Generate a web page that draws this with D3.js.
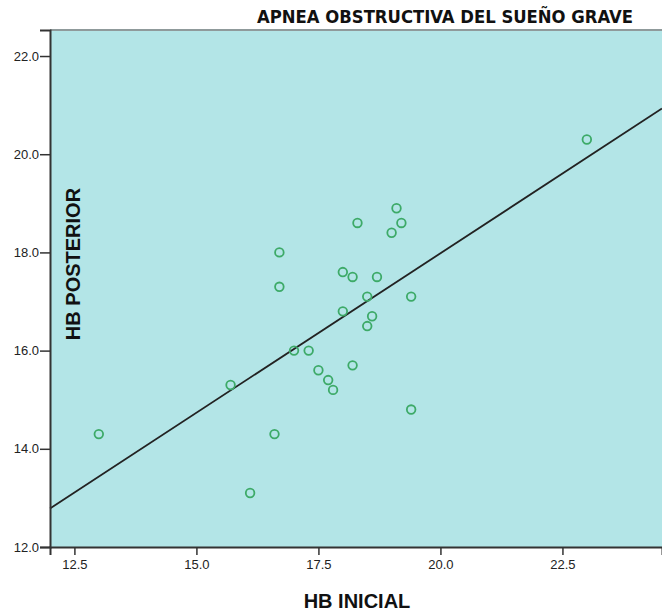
<!DOCTYPE html>
<html>
<head>
<meta charset="utf-8">
<script src="https://cdn.jsdelivr.net/npm/d3@7"></script>
<style>
  body { margin: 0; background: #fff; }
  svg { display: block; }
</style>
</head>
<body>
<div id="chart"></div>
<script>
// HB inicial vs HB posterior, one point per patient
const hbInicial = [13.0, 15.7, 16.1, 16.6, 16.7, 16.7, 17.0, 17.3, 17.5, 17.7, 17.8, 18.0, 18.0,
    18.2, 18.2, 18.3, 18.5, 18.5, 18.6, 18.7, 19.0, 19.1, 19.2, 19.4, 19.4, 23.0];
const hbPosterior = [14.3, 15.3, 13.1, 14.3, 18.0, 17.3, 16.0, 16.0, 15.6, 15.4, 15.2, 17.6, 16.8,
    17.5, 15.7, 18.6, 17.1, 16.5, 16.7, 17.5, 18.4, 18.9, 18.6, 17.1, 14.8, 20.3];
const xTicks = [12.5, 15.0, 17.5, 20.0, 22.5];
const yTicks = [12.0, 14.0, 16.0, 18.0, 20.0, 22.0];

const WIDTH = 662;
const HEIGHT = 614;
const plot = { left: 50, top: 30, right: 662, bottom: 547 };

const svg = d3.select('#chart')
    .append('svg')
    .attr('width', WIDTH)
    .attr('height', HEIGHT);

const xScale = d3.scaleLinear()
    .domain([12.0, 24.54])
    .range([plot.left, plot.right]);

const yScale = d3.scaleLinear()
    .domain([12.0, 22.53])
    .range([plot.bottom, plot.top]);

// Background
svg.append('rect')
    .attr('x', plot.left)
    .attr('y', plot.top)
    .attr('width', plot.right - plot.left)
    .attr('height', plot.bottom - plot.top)
    .attr('fill', '#b3e5e7');

svg.append('line')
    .attr('x1', plot.left).attr('x2', plot.right)
    .attr('y1', plot.top).attr('y2', plot.top)
    .attr('stroke', '#8f9a9b')
    .attr('stroke-width', 2);

// Fit line (least squares)
const data = hbInicial.map((x, i) => ({ x: x, y: hbPosterior[i] }));
const mx = d3.mean(data, d => d.x);
const my = d3.mean(data, d => d.y);
const slope = d3.sum(data, d => (d.x - mx) * (d.y - my)) / d3.sum(data, d => (d.x - mx) ** 2);
const intercept = my - slope * mx;
const [x0, x1] = xScale.domain();

svg.append('line')
    .attr('x1', xScale(x0))
    .attr('y1', yScale(intercept + slope * x0))
    .attr('x2', xScale(x1))
    .attr('y2', yScale(intercept + slope * x1))
    .attr('stroke', '#222')
    .attr('stroke-width', 1.8);

// Points
svg.selectAll('circle')
    .data(data)
    .enter()
    .append('circle')
    .attr('cx', d => xScale(d.x))
    .attr('cy', d => yScale(d.y))
    .attr('r', 4.3)
    .attr('fill', 'none')
    .attr('stroke', '#3daa68')
    .attr('stroke-width', 1.8);

// Axes
const xAxis = svg.append('g')
    .attr('transform', `translate(0,${plot.bottom})`)
    .call(d3.axisBottom(xScale).tickValues(xTicks).tickFormat(d3.format('.1f')).tickSize(8).tickPadding(5));

const yAxis = svg.append('g')
    .attr('transform', `translate(${plot.left},0)`)
    .call(d3.axisLeft(yScale).tickValues(yTicks).tickFormat(d3.format('.1f')).tickSize(10).tickPadding(1));

[xAxis, yAxis].forEach(g => {
    g.select('.domain').attr('stroke', '#333').attr('stroke-width', 2);
    g.selectAll('.tick line').attr('stroke', '#333').attr('stroke-width', 1.5);
    g.selectAll('.tick text')
        .attr('fill', '#222')
        .style('font-family', 'Liberation Sans, Arial, sans-serif')
        .style('font-size', '13px');
});

// Labels
svg.append('text')
    .attr('x', 633)
    .attr('y', 23)
    .attr('text-anchor', 'end')
    .attr('textLength', 376)
    .attr('lengthAdjust', 'spacingAndGlyphs')
    .style('font-family', 'DejaVu Sans Condensed, DejaVu Sans, sans-serif')
    .style('font-weight', 'bold')
    .style('font-size', '17px')
    .attr('fill', '#111')
    .text('APNEA OBSTRUCTIVA DEL SUEÑO GRAVE');

svg.append('text')
    .attr('x', 357)
    .attr('y', 608)
    .attr('text-anchor', 'middle')
    .style('font-family', 'Liberation Sans, Arial, sans-serif')
    .style('font-weight', 'bold')
    .style('font-size', '20px')
    .attr('fill', '#111')
    .text('HB INICIAL');

svg.append('text')
    .attr('transform', 'translate(80,264) rotate(-90)')
    .attr('text-anchor', 'middle')
    .style('font-family', 'Liberation Sans, Arial, sans-serif')
    .style('font-weight', 'bold')
    .style('font-size', '20px')
    .attr('fill', '#111')
    .text('HB POSTERIOR');
</script>
</body>
</html>
